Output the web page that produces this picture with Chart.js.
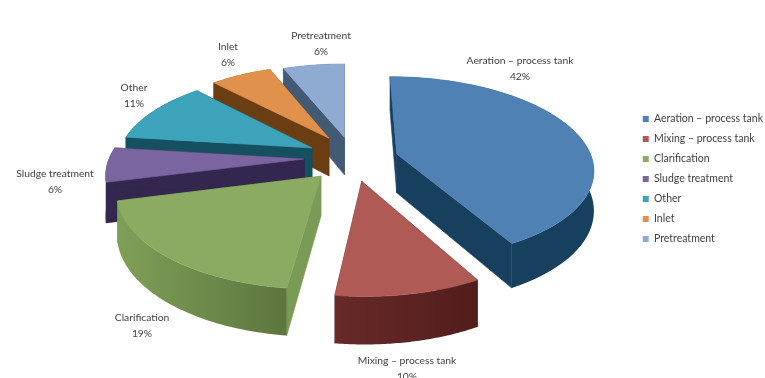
<!DOCTYPE html>
<html>
<head>
<meta charset="utf-8">
<script src="https://cdn.jsdelivr.net/npm/chart.js@4"></script>
<style>
  html, body { margin: 0; padding: 0; background: #fff; }
  #wrap { width: 765px; height: 378px; }
</style>
</head>
<body>
<div id="wrap"><canvas id="pie-chart" width="765" height="378"></canvas></div>
<script>
const categories = ['Aeration – process tank', 'Mixing – process tank', 'Clarification', 'Sludge treatment', 'Other', 'Inlet', 'Pretreatment'];
const shares = [42, 10, 19, 6, 11, 6, 6];

// colours: top face, then outer wall from start to end of the arc, then cut wall
const topColors = ['#4f81b4', '#b05a55', '#8cab62', '#7b65a0', '#3ca3bb', '#e0914c', '#8fabd2'];
const wallFrom = ['#17405f', '#672a28', '#7f9f58', '#33264f', '#14505f', '#6b3d12', '#435a74'];
const wallTo = ['#17405f', '#521d1c', '#5d763f', '#33264f', '#14505f', '#6b3d12', '#435a74'];
const cutColors = ['#17405f', '#5a2120', '#7a9b55', '#33264f', '#14505f', '#6b3d12', '#435a74'];

// how far each slice is pulled out of the pie, in pie radii
const pullX = [0.267, 0.083, -0.12, -0.209, -0.172, -0.085, -0.003];
const pullY = [-0.045, 0.25, 0.196, 0.011, -0.114, -0.227, -0.24];

// text anchor of the outside labels
const labelX = [520, 407, 142, 55, 134, 228, 321];
const labelY = [61, 361, 318, 174, 88, 47, 36];

const drawOrder = [6, 5, 4, 3, 0, 2, 1];

// fake 3d view of the flat pie
const view = { cx: 345, cy: 158, rx: 195, ry: 90, persp: 0.15, depth: 39 };

function project(u, v, low) {
  let s = 1 / (1 - view.persp * v);
  return {
    x: view.cx + view.rx * u * s,
    y: view.cy + view.ry * v * s + (low ? view.depth * s : 0)
  };
}

function fillPoly(ctx, pts, fill) {
  ctx.beginPath();
  pts.forEach((p, i) => {
    if (i == 0) ctx.moveTo(p.x, p.y);
    else ctx.lineTo(p.x, p.y);
  });
  ctx.closePath();
  ctx.fillStyle = fill;
  ctx.strokeStyle = fill;
  ctx.lineWidth = 0.6;
  ctx.fill();
  if (typeof fill == 'string') ctx.stroke();
}

function drawSlice(ctx, arc, i) {
  let ox = pullX[i], oy = pullY[i];
  let rim = [], rimLow = [];
  let steps = 60;
  for (let k = 0; k <= steps; k++) {
    let a = arc.startAngle + (arc.endAngle - arc.startAngle) * k / steps;
    rim.push(project(ox + Math.cos(a), oy + Math.sin(a), false));
    rimLow.push(project(ox + Math.cos(a), oy + Math.sin(a), true));
  }
  let apex = project(ox, oy, false);
  let apexLow = project(ox, oy, true);
  let first = rim[0], last = rim[steps];

  // the two cut faces
  fillPoly(ctx, [apex, first, rimLow[0], apexLow], cutColors[i]);
  fillPoly(ctx, [apex, last, rimLow[steps], apexLow], cutColors[i]);

  // outer wall
  let grad = ctx.createLinearGradient(last.x, 0, first.x, 0);
  grad.addColorStop(0, wallFrom[i]);
  grad.addColorStop(1, wallTo[i]);
  fillPoly(ctx, rim.concat(rimLow.slice().reverse()), grad);

  // top face
  fillPoly(ctx, [apex].concat(rim), topColors[i]);
}

const pie3d = {
  id: 'pie3d',
  beforeDatasetDraw(chart) {
    let ctx = chart.ctx;
    let arcs = chart.getDatasetMeta(0).data;
    drawOrder.forEach(i => drawSlice(ctx, arcs[i], i));
    return false;
  },
  afterDraw(chart) {
    let ctx = chart.ctx;
    ctx.save();
    ctx.font = '10.3px Lato';
    ctx.fillStyle = '#404040';
    ctx.textAlign = 'center';
    ctx.textBaseline = 'middle';
    categories.forEach((name, i) => {
      ctx.fillText(name, labelX[i], labelY[i]);
      ctx.fillText(shares[i] + '%', labelX[i], labelY[i] + 16);
    });
    ctx.restore();
  }
};

const config = {
  type: 'pie',
  data: {
    labels: categories,
    datasets: [{
      data: shares,
      backgroundColor: topColors,
      borderWidth: 0
    }]
  },
  options: {
    responsive: false,
    animation: false,
    layout: { padding: { right: -8, bottom: 20 } },
    plugins: {
      tooltip: { enabled: false },
      legend: {
        position: 'right',
        labels: {
          boxWidth: 6,
          boxHeight: 6,
          padding: 9.5,
          color: '#404040',
          font: { family: 'Lato', size: 10.5 }
        }
      }
    }
  },
  plugins: [pie3d]
};

const myChart = new Chart(document.getElementById('pie-chart'), config);
</script>
</body>
</html>
